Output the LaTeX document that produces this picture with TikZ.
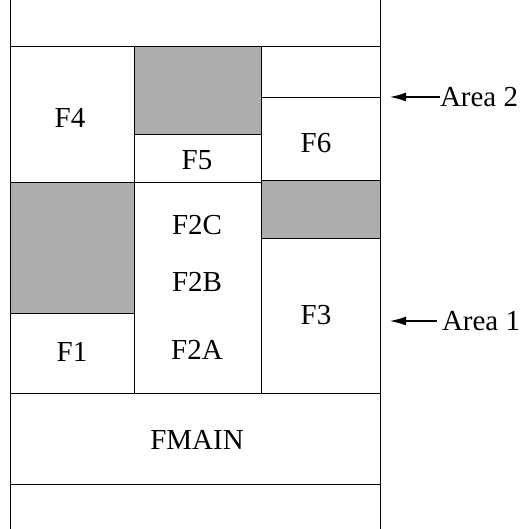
\documentclass[tikz,border=0pt]{standalone}
\usepackage{fontspec}
\setmainfont{Liberation Serif}
\usetikzlibrary{arrows.meta}

\begin{document}
\begin{tikzpicture}[x=1pt,y=-1pt]
\tikzset{inner sep=0pt, outer sep=0pt}
\tikzset{fieldname/.style={font=\rmfamily\fontsize{29}{34}\selectfont}}
\tikzset{freearea/.style={fill=black!32}}
\tikzset{pointer/.style={-{Latex[length=16pt,width=9pt]}, line width=1.2pt}}

\useasboundingbox (0,0) rectangle (523,529);

%\draw [dotted,thin] (0,0) rectangle (523,529);

\fill [freearea] (134,46) rectangle (261,134);
\fill [freearea] (10,182) rectangle (134,313);
\fill [freearea] (261,180) rectangle (380,238);

\draw [line width=0.9pt] (10,0) -- (10,529);
\draw [line width=0.9pt] (380,0) -- (380,529);

\draw [line width=0.9pt] (10,46) -- (380,46);
\draw [line width=0.9pt] (134,46) -- (134,393);
\draw [line width=0.9pt] (261,46) -- (261,393);
\draw [line width=0.9pt] (134,134) -- (261,134);
\draw [line width=0.9pt] (261,97) -- (380,97);
\draw [line width=0.9pt] (10,182) -- (261,182);
\draw [line width=0.9pt] (261,180) -- (380,180);
\draw [line width=0.9pt] (10,313) -- (134,313);
\draw [line width=0.9pt] (261,238) -- (380,238);
\draw [line width=0.9pt] (10,393) -- (380,393);
\draw [line width=0.9pt] (10,484) -- (380,484);

\node [fieldname] (f4) at (70,118){F4};
\node [fieldname] (f5) at (197,160){F5};
\node [fieldname] (f6) at (316,143){F6};

\node [fieldname] (f2c) at (197,225){F2C};
\node [fieldname] (f2b) at (197,282){F2B};
\node [fieldname] (f2a) at (197,350){F2A};
\node [fieldname] (f1) at (72,352){F1};
\node [fieldname] (f3) at (316,315){F3};

\node [fieldname] (fmain) at (197,440){FMAIN};

\node [fieldname, anchor=west] (area2) at (440,97){Area 2};
\coordinate (tip2) at (390,97);
\draw [pointer] (area2.west) -- (tip2);

\node [fieldname, anchor=west] (area1) at (442,321){Area 1};
\coordinate (tip1) at (390,321);
\draw [pointer, shorten <=5pt] (area1.west) -- (tip1);

\end{tikzpicture}
\end{document}
